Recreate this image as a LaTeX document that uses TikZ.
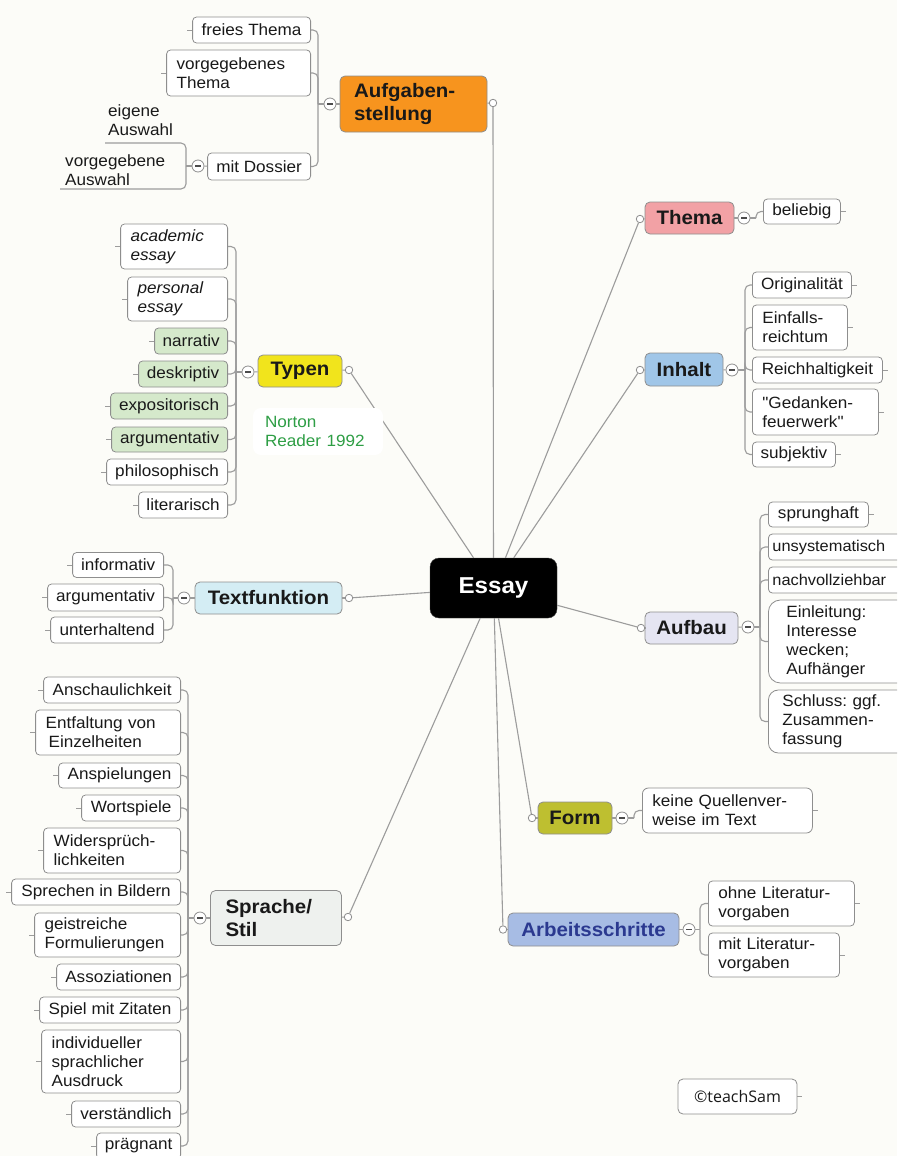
\documentclass[tikz,border=0pt]{standalone}
\usepackage{fontspec}
\setmainfont{Liberation Sans}[FakeStretch=1.05, Ligatures=TeXOff]
\newfontfamily\tsfont{Open Sans}
\definecolor{bg}{HTML}{FCFCF8}
\definecolor{lc}{HTML}{9C9C9C}
\definecolor{bc}{HTML}{8E8E8E}
\definecolor{corange}{HTML}{F7941E}
\definecolor{cyellow}{HTML}{F1E41C}
\definecolor{ctextf}{HTML}{D4EDF4}
\definecolor{cthema}{HTML}{F2A1A5}
\definecolor{cinhalt}{HTML}{A0C6E8}
\definecolor{caufbau}{HTML}{E5E5F2}
\definecolor{cform}{HTML}{BEBF30}
\definecolor{carb}{HTML}{A7BCE4}
\definecolor{carbt}{HTML}{2B3990}
\definecolor{cstil}{HTML}{EEF1EE}
\definecolor{cgreen}{HTML}{D5E9CB}
\definecolor{cnorton}{HTML}{2E9E45}
\newcommand\fleaf{\fontsize{16.3}{19}\selectfont}
\newcommand\ftopic{\fontsize{19.5}{23}\selectfont\bfseries}
\newcommand\fessay{\fontsize{23}{27}\selectfont\bfseries}
\tikzset{
  ln/.style={draw=lc, line width=1.1pt},
  box/.style={draw=bc, line width=0.8pt, fill=white, rounded corners=4pt, font=\fleaf, inner xsep=6pt, inner ysep=2pt, text=black!90},
  sl/.style={box, minimum width=#1, minimum height=26pt},
  ml/.style={box, align=left, inner xsep=10pt, text width=#1},
  topic/.style={draw=bc, line width=0.8pt, rounded corners=5pt, font=\ftopic, minimum height=32pt, inner xsep=6pt, text=black!90},
  minusc/.style={circle, draw=bc, line width=0.8pt, fill=white, minimum size=12pt, inner sep=0pt,
    path picture={\draw[black!70, line width=1.3pt] ([xshift=-3pt]path picture bounding box.center) -- ([xshift=3pt]path picture bounding box.center);}},
  dotc/.style={circle, draw=bc, line width=0.8pt, fill=white, minimum size=7.5pt, inner sep=0pt},
  brk/.style={ln, rounded corners=5pt}
}
\begin{document}
\lefthyphenmin=64
\frenchspacing
\begin{tikzpicture}[x=1pt,y=-1pt]
\useasboundingbox (0,0) rectangle (897,1156);
\fill[bg] (0,0) rectangle (897,1156);
\clip (0,0) rectangle (897,1156);

% centre
\node[draw=black!75, fill=black, rounded corners=9pt, minimum width=127pt, minimum height=60pt, text=white, font=\fessay] (essay) at (493.5,588) {Essay};

% main topics
\node[topic, fill=corange, minimum width=147pt, minimum height=56pt, align=left, text width=119pt, inner xsep=14pt] (aufg) at (413.5,104) {Aufgaben-\\stellung};
\node[topic, fill=cyellow, minimum width=84pt] (typen) at (300,371) {Typen};
\node[topic, fill=ctextf, minimum width=147pt] (textf) at (268.5,598) {Textfunktion};
\node[topic, fill=cstil, minimum height=55pt, align=left, text width=101pt, inner xsep=15pt] (stil) at (276,918) {Sprache/\\Stil};
\node[topic, fill=cthema, minimum width=89pt] (thema) at (689.5,218) {Thema};
\node[topic, fill=cinhalt, minimum width=78pt, minimum height=33pt] (inhalt) at (684,369.5) {Inhalt};
\node[topic, fill=caufbau, minimum width=93pt] (aufbau) at (691.5,628) {Aufbau};
\node[topic, fill=cform, minimum width=74pt] (form) at (575,818) {Form};
\node[topic, fill=carb, minimum width=171pt, minimum height=33pt, text=carbt] (arb) at (593.5,929.5) {Arbeitsschritte};

% connector dots
\node[dotc] (cA) at (493,103) {};
\node[dotc] (cT) at (349,370) {};
\node[dotc] (cTf) at (349,598) {};
\node[dotc] (cS) at (348,917) {};
\node[dotc] (cTh) at (640,219) {};
\node[dotc] (cI) at (640,370) {};
\node[dotc] (cAb) at (641,628) {};
\node[dotc] (cF) at (532,818) {};
\node[dotc] (cAr) at (503,929.5) {};

% minus circles
\node[minusc] (mA) at (330,104) {};
\node[minusc] (mD) at (198,166) {};
\node[minusc] (mT) at (248,372) {};
\node[minusc] (mTf) at (184,598) {};
\node[minusc] (mS) at (200,918) {};
\node[minusc] (mTh) at (744,218) {};
\node[minusc] (mI) at (732,370) {};
\node[minusc] (mAb) at (748,627) {};
\node[minusc] (mF) at (622,818) {};
\node[minusc] (mAr) at (689,929.5) {};

% bracket x positions
\coordinate (bA) at (318,0);
\coordinate (bD) at (186,0);
\coordinate (bT) at (236,0);
\coordinate (bTf) at (173,0);
\coordinate (bS) at (188,0);
\coordinate (bTh) at (756,0);
\coordinate (bI) at (745,0);
\coordinate (bAb) at (760,0);
\coordinate (bF) at (634,0);
\coordinate (bAr) at (700,0);

% Aufgabenstellung leaves
\node[sl=118pt, anchor=east] (a1) at (311,30) {freies Thema};
\node[ml=124pt, anchor=east, minimum height=46pt] (a2) at (311,73) {vorgegebenes\\Thema};
\node[sl=103pt, anchor=east, minimum height=27pt] (a3) at (311,166.5) {mit Dossier};
\node[font=\fleaf, align=left, inner sep=0pt, anchor=north west, text=black!90] (eAt) at (108,104) {eigene\\Auswahl};
\node[font=\fleaf, align=left, inner sep=0pt, anchor=north west, text=black!90] (vAt) at (65,154) {vorgegebene\\Auswahl};
\coordinate (eA) at (105,143);
\coordinate (vA) at (60,189);

% Typen leaves
\node[ml=87pt, anchor=east, minimum height=45pt, font=\fleaf\itshape] (t1) at (228,246.5) {academic\\essay};
\node[ml=80pt, anchor=east, minimum height=44pt, font=\fleaf\itshape] (t2) at (228,299) {personal\\essay};
\node[sl=73pt, anchor=east, fill=cgreen] (t3) at (228,341) {narrativ};
\node[sl=89pt, anchor=east, fill=cgreen] (t4) at (228,374) {deskriptiv};
\node[sl=117pt, anchor=east, fill=cgreen] (t5) at (228,406) {expositorisch};
\node[sl=116pt, anchor=east, fill=cgreen, minimum height=25pt] (t6) at (228,439.5) {argumentativ};
\node[sl=121pt, anchor=east] (t7) at (228,472) {philosophisch};
\node[sl=89pt, anchor=east] (t8) at (228,505) {literarisch};

% Textfunktion leaves
\node[sl=91pt, anchor=east, minimum height=25pt] (f1) at (164,565) {informativ};
\node[sl=116pt, anchor=east, minimum height=27pt] (f2) at (164,597.5) {argumentativ};
\node[sl=113pt, anchor=east] (f3) at (164,630) {unterhaltend};

% Sprache/Stil leaves
\node[sl=137pt, anchor=east] (s1) at (181,690) {Anschaulichkeit};
\node[ml=125pt, anchor=east, minimum height=45pt] (s2) at (181,732.5) {Entfaltung von\\\hspace*{3pt}Einzelheiten};
\node[sl=122pt, anchor=east, minimum height=25pt] (s3) at (181,775.5) {Anspielungen};
\node[sl=99pt, anchor=east] (s4) at (181,808) {Wortspiele};
\node[ml=117pt, anchor=east, minimum height=45pt] (s5) at (181,850.5) {Widersprüch-\\lichkeiten};
\node[sl=169pt, anchor=east] (s6) at (181,892) {Sprechen in Bildern};
\node[ml=126pt, anchor=east, minimum height=44pt] (s7) at (181,935) {geistreiche\\Formulierungen};
\node[sl=124pt, anchor=east] (s8) at (181,977) {Assoziationen};
\node[sl=141pt, anchor=east] (s9) at (181,1010) {Spiel mit Zitaten};
\node[ml=119pt, anchor=east, minimum height=63pt] (s10) at (181,1061.5) {individueller\\sprachlicher\\Ausdruck};
\node[sl=109pt, anchor=east] (s11) at (181,1114) {verständlich};
\node[sl=84pt, anchor=east] (s12) at (181,1146) {prägnant};

% Thema leaf
\node[sl=77pt, anchor=west, minimum height=25pt] (th1) at (763,211.5) {beliebig};

% Inhalt leaves
\node[sl=99pt, anchor=west] (i1) at (752,285) {Originalität};
\node[ml=75pt, anchor=west, minimum height=45pt] (i2) at (752,327.5) {Einfalls-\\reichtum};
\node[sl=130pt, anchor=west] (i3) at (752,370) {Reichhaltigkeit};
\node[ml=106pt, anchor=west, minimum height=46pt] (i4) at (752,412) {"Gedanken-\\feuerwerk"};
\node[sl=83pt, anchor=west, minimum height=25pt] (i5) at (752,454.5) {subjektiv};

% Aufbau leaves
\node[sl=100pt, anchor=west, minimum height=25pt] (b1) at (768,514.5) {sprunghaft};
\node[box, anchor=west, minimum height=26pt, align=left, text width=150pt, inner xsep=4pt, font=\fontsize{15.6}{19}\selectfont] (b2) at (768,547) {unsystematisch};
\node[box, anchor=west, minimum height=26pt, align=left, text width=150pt, inner xsep=4pt, font=\fontsize{15.6}{19}\selectfont] (b3) at (768,580) {nachvollziehbar};
\node[ml=124pt, anchor=west, minimum height=83pt, inner xsep=18pt, rounded corners=12pt] (b4) at (768,641.5) {Einleitung:\\Interesse\\wecken;\\Aufhänger};
\node[ml=130pt, anchor=west, minimum height=63pt, inner xsep=14pt, rounded corners=10pt] (b5) at (768,721.5) {Schluss: ggf.\\Zusammen-\\fassung};

% Form leaf
\node[ml=150pt, anchor=west, minimum height=45pt, rounded corners=6pt] (fo1) at (642,810.5) {keine Quellenver-\\weise im Text};

% Arbeitsschritte leaves
\node[ml=126pt, anchor=west, minimum height=45pt] (ar1) at (708,903.5) {ohne Literatur-\\vorgaben};
\node[ml=111pt, anchor=west, minimum height=44pt] (ar2) at (708,955) {mit Literatur-\\vorgaben};

% teachSam
\node[box, font=\tsfont\fontsize{16}{19}\selectfont, minimum width=119pt, minimum height=35pt, rounded corners=5pt] (ts) at (737.5,1096.5) {©teachSam};

% ---- connectors: topic -> dot -> Essay
\foreach \t/\c in {aufg/cA, typen/cT, textf/cTf, stil/cS, thema/cTh, inhalt/cI, aufbau/cAb, form/cF, arb/cAr}{
  \draw[ln] (\t) -- (\c);
  \draw[ln] (\c) -- (essay);
}
% topic -> minus
\foreach \t/\m in {aufg/mA, typen/mT, textf/mTf, stil/mS, thema/mTh, inhalt/mI, aufbau/mAb, form/mF, arb/mAr, a3/mD}{
  \draw[ln] (\t) -- (\m);
}
% brackets on the left side
\draw[ln] (mA) -- (mA -| bA);
\foreach \ch in {a1,a2,a3} \draw[brk] (mA -| bA) |- (\ch.east);
\draw[ln] (mD) -- (mD -| bD);
\draw[brk] (mD -| bD) |- (eA);
\draw[brk] (mD -| bD) |- (vA);
\draw[ln] (mT) -- (mT -| bT);
\foreach \ch in {t1,t2,t3,t4,t5,t6,t7,t8} \draw[brk] (mT -| bT) |- (\ch.east);
\draw[ln] (mTf) -- (mTf -| bTf);
\foreach \ch in {f1,f2,f3} \draw[brk] (mTf -| bTf) |- (\ch.east);
\draw[ln] (mS) -- (mS -| bS);
\foreach \ch in {s1,s2,s3,s4,s5,s6,s7,s8,s9,s10,s11,s12} \draw[brk] (mS -| bS) |- (\ch.east);
% brackets on the right side
\draw[ln] (mTh) -- (mTh -| bTh);
\draw[brk] (mTh -| bTh) |- (th1.west);
\draw[ln] (mI) -- (mI -| bI);
\foreach \ch in {i1,i2,i3,i4,i5} \draw[brk] (mI -| bI) |- (\ch.west);
\draw[ln] (mAb) -- (mAb -| bAb);
\foreach \ch in {b1,b2,b3,b4,b5} \draw[brk] (mAb -| bAb) |- (\ch.west);
\draw[ln] (mF) -- (mF -| bF);
\draw[brk] (mF -| bF) |- (fo1.west);
\draw[ln] (mAr) -- (mAr -| bAr);
\foreach \ch in {ar1,ar2} \draw[brk] (mAr -| bAr) |- (\ch.west);

% small stubs on leaves
\foreach \n in {a1,a2,t1,t2,t3,t4,t5,t6,t7,t8,f1,f2,f3,s1,s2,s3,s4,s5,s6,s7,s8,s9,s10,s11,s12}
  \draw[draw=lc, line width=0.8pt] (\n.west) -- ++(-5,0);
\foreach \n in {th1,i1,i2,i3,i4,i5,b1,fo1,ar1,ar2,ts}
  \draw[draw=lc, line width=0.8pt] (\n.east) -- ++(5,0);

% Norton note (covers the Typen line)
\node[fill=white, rounded corners=8pt, minimum width=130pt, minimum height=47pt, align=left, text width=106pt, inner xsep=12pt, font=\fleaf, text=cnorton] (norton) at (318,431.5) {Norton\\Reader 1992};
\end{tikzpicture}
\end{document}
